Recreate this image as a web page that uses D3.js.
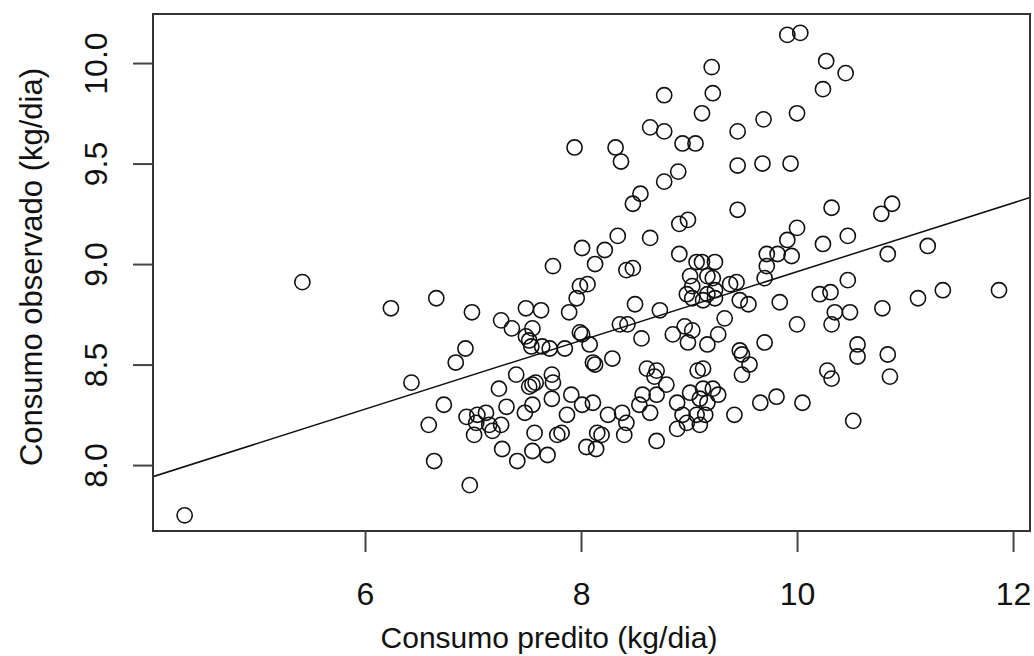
<!DOCTYPE html>
<html>
<head>
<meta charset="utf-8">
<script src="https://cdn.jsdelivr.net/npm/d3@7"></script>
<style>
  html, body { margin: 0; padding: 0; background: #fff; }
  svg { display: block; }
  text { font-family: "Liberation Sans", Arial, Helvetica, sans-serif; fill: #111; }
</style>
</head>
<body>
<svg id="chart" width="1034" height="656"></svg>
<script>
// ---- data ----
const predito = [
  4.33, 5.42, 6.24,
  7.74, 6.66, 6.99, 7.49, 7.63, 7.26, 7.36, 7.55, 7.49, 7.52, 7.54, 7.64, 6.93, 6.84, 6.43, 7.40,
  7.55, 7.52, 7.58, 7.73, 7.74, 7.24, 7.73, 6.73, 7.31, 7.55, 7.48, 6.94, 7.04, 7.12, 6.59, 7.15,
  7.26, 7.18, 7.01, 7.57, 7.78, 7.27, 7.55, 7.69, 7.41, 6.64, 6.97, 7.03,
  8.13, 8.42, 8.48, 8.91, 9.07, 9.01, 7.99, 8.06, 7.96, 7.89, 8.50, 8.73, 8.98, 9.03, 9.03, 8.36,
  8.43, 7.99, 8.01, 7.85, 8.08, 8.56, 8.85, 8.96, 9.03, 8.99, 7.71, 8.11, 8.13, 8.29, 8.61, 8.70,
  8.68, 9.08, 8.79, 7.91, 8.01, 8.11, 8.57, 8.70, 8.54, 8.89, 9.01, 8.64, 7.87, 8.25, 8.38, 8.42,
  8.94, 8.98, 9.07, 8.89, 7.82, 8.15, 8.19, 8.40, 8.05, 8.14, 8.70,
  9.72, 9.82, 9.95, 9.12, 9.24, 9.72, 9.17, 9.22, 9.70, 9.44, 9.38, 9.24, 9.17, 9.13, 9.24, 9.47,
  9.55, 9.84, 10.21, 10.35, 10.32, 10.00, 9.33, 9.27, 9.17, 9.70, 9.47, 9.49, 9.56, 9.13, 9.49,
  10.28, 10.32, 9.13, 9.22, 9.27, 9.10, 9.17, 9.15, 9.66, 9.81, 10.05, 9.42, 9.10,
  10.32, 10.88, 10.78, 10.47, 10.84, 11.21, 10.47, 10.31, 11.35, 11.87, 11.12, 10.79, 10.49,
  10.56, 10.56, 10.84, 10.86, 10.52,
  9.21, 8.77, 9.22, 9.12, 8.64, 8.77, 8.94, 9.06, 7.94, 8.32, 8.37, 8.90, 8.77, 8.55, 8.48, 8.91,
  8.99, 8.34, 8.64, 8.01, 8.22,
  9.91, 10.03, 10.27, 10.45, 10.24, 10.00, 9.69, 9.45, 9.45, 9.68, 9.94, 9.45, 10.00, 9.91, 10.24
];
const observado = [
  7.75, 8.91, 8.78,
  8.99, 8.83, 8.76, 8.78, 8.77, 8.72, 8.68, 8.68, 8.64, 8.62, 8.59, 8.59, 8.58, 8.51, 8.41, 8.45,
  8.40, 8.39, 8.41, 8.45, 8.41, 8.38, 8.33, 8.30, 8.29, 8.30, 8.26, 8.24, 8.25, 8.26, 8.20, 8.20,
  8.20, 8.17, 8.15, 8.16, 8.15, 8.08, 8.07, 8.05, 8.02, 8.02, 7.90, 8.21,
  9.00, 8.97, 8.98, 9.05, 9.01, 8.94, 8.89, 8.90, 8.83, 8.76, 8.80, 8.77, 8.85, 8.89, 8.83, 8.70,
  8.70, 8.66, 8.65, 8.58, 8.60, 8.63, 8.65, 8.69, 8.67, 8.61, 8.58, 8.51, 8.50, 8.53, 8.48, 8.47,
  8.44, 8.47, 8.40, 8.35, 8.30, 8.31, 8.35, 8.35, 8.30, 8.31, 8.36, 8.26, 8.25, 8.25, 8.26, 8.21,
  8.25, 8.21, 8.25, 8.18, 8.16, 8.16, 8.15, 8.15, 8.09, 8.08, 8.12,
  9.05, 9.05, 9.04, 9.01, 9.01, 8.99, 8.94, 8.93, 8.93, 8.91, 8.90, 8.87, 8.85, 8.82, 8.83, 8.82,
  8.80, 8.81, 8.85, 8.76, 8.70, 8.70, 8.73, 8.65, 8.60, 8.61, 8.57, 8.55, 8.50, 8.48, 8.45,
  8.47, 8.43, 8.38, 8.38, 8.35, 8.33, 8.31, 8.25, 8.31, 8.34, 8.31, 8.25, 8.20,
  9.28, 9.30, 9.25, 9.14, 9.05, 9.09, 8.92, 8.86, 8.87, 8.87, 8.83, 8.78, 8.76,
  8.60, 8.54, 8.55, 8.44, 8.22,
  9.98, 9.84, 9.85, 9.75, 9.68, 9.66, 9.60, 9.60, 9.58, 9.58, 9.51, 9.46, 9.41, 9.35, 9.30, 9.20,
  9.22, 9.14, 9.13, 9.08, 9.07,
  10.14, 10.15, 10.01, 9.95, 9.87, 9.75, 9.72, 9.66, 9.49, 9.50, 9.50, 9.27, 9.18, 9.12, 9.10
];
const xTicks = [6, 8, 10, 12];
const xTickLabels = ["6", "8", "10", "12"];
const yTicks = [8.0, 8.5, 9.0, 9.5, 10.0];
const yTickLabels = ["8.0", "8.5", "9.0", "9.5", "10.0"];
const fitLine = [7.252, 0.171]; // intercept, slope
const xLabel = "Consumo predito (kg/dia)";
const yLabel = "Consumo observado (kg/dia)";

// ---- layout ----
const svg = d3.select("#chart");
const L = 153, R = 1030, T = 14, B = 531;
const FS = 32;

const x = d3.scaleLinear().domain([4.037, 12.157]).range([L, R]);
const y = d3.scaleLinear().domain([7.672, 10.244]).range([B, T]);

svg.append("rect").attr("width", 1034).attr("height", 656).attr("fill", "#fff");

svg.append("clipPath").attr("id", "plotclip")
  .append("rect").attr("x", L).attr("y", T).attr("width", R - L).attr("height", B - T);

// regression line
const xd = x.domain();
svg.append("line")
  .attr("clip-path", "url(#plotclip)")
  .attr("x1", x(xd[0])).attr("y1", y(fitLine[0] + fitLine[1] * xd[0]))
  .attr("x2", x(xd[1])).attr("y2", y(fitLine[0] + fitLine[1] * xd[1]))
  .attr("stroke", "#111").attr("stroke-width", 1.5);

// points
const pts = predito.map((p, i) => ({ p, o: observado[i] }));
svg.append("g").selectAll("circle").data(pts).join("circle")
  .attr("cx", d => x(d.p)).attr("cy", d => y(d.o)).attr("r", 7.6)
  .attr("fill", "none").attr("stroke", "#111").attr("stroke-width", 1.6);

// box
svg.append("rect").attr("x", L).attr("y", T).attr("width", R - L).attr("height", B - T)
  .attr("fill", "none").attr("stroke", "#333").attr("stroke-width", 2);

// x axis
const gx = svg.append("g").attr("transform", `translate(0,${B})`)
  .call(d3.axisBottom(x).tickValues(xTicks).tickFormat((d, i) => xTickLabels[i])
    .tickSize(21).tickSizeOuter(0));
gx.select(".domain").remove();
gx.selectAll(".tick line").attr("stroke", "#444").attr("stroke-width", 2);
gx.selectAll(".tick text").attr("font-size", FS).attr("font-family", null)
  .attr("y", 74).attr("dy", null).attr("fill", "#111");

// y axis
const gy = svg.append("g").attr("transform", `translate(${L},0)`)
  .call(d3.axisLeft(y).tickValues(yTicks).tickFormat((d, i) => yTickLabels[i])
    .tickSize(20).tickSizeOuter(0));
gy.select(".domain").remove();
gy.selectAll(".tick line").attr("stroke", "#444").attr("stroke-width", 2);
gy.selectAll(".tick text").attr("font-size", FS).attr("font-family", null)
  .attr("text-anchor", "middle").attr("x", 0).attr("y", -46).attr("dy", null)
  .attr("transform", "rotate(-90)").attr("fill", "#111");

// axis titles
svg.append("text").attr("x", 549).attr("y", 648).attr("text-anchor", "middle")
  .attr("font-size", 30).text(xLabel);
svg.append("text").attr("transform", `translate(42,267) rotate(-90)`)
  .attr("text-anchor", "middle").attr("font-size", 31).text(yLabel);
</script>
</body>
</html>
